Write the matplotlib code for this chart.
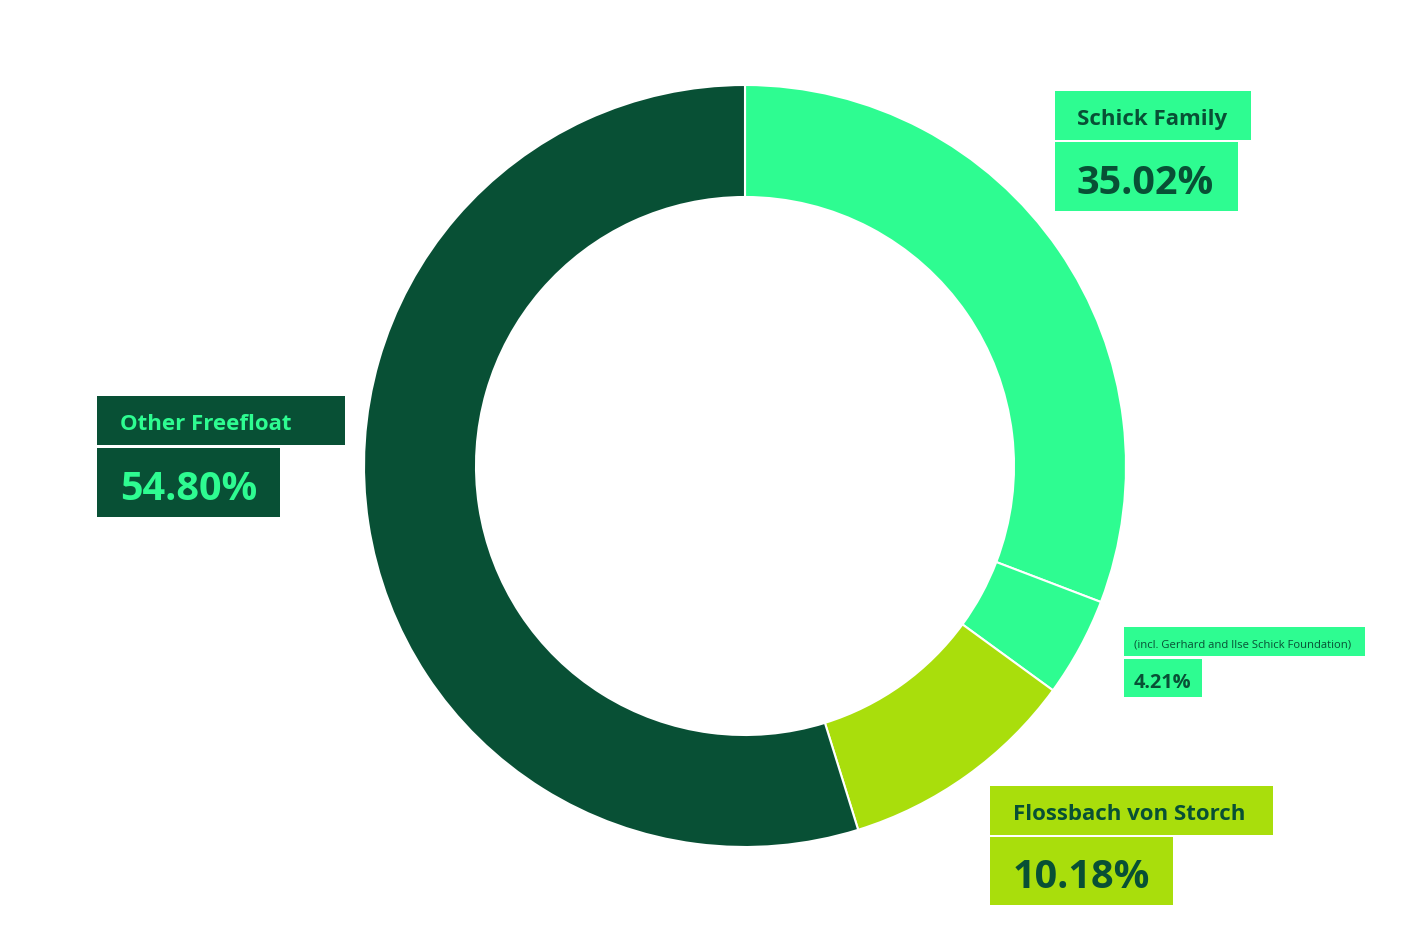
import matplotlib.pyplot as plt
from matplotlib.patches import Rectangle

# shareholder structure
segments = ['Schick Family', '(incl. Gerhard and Ilse Schick Foundation)',
            'Flossbach von Storch', 'Other Freefloat']
shares = [30.81, 4.21, 10.18, 54.80]
shown_pct = ['35.02%', '4.21%', '10.18%', '54.80%']
colors = ['#2efc91', '#2efc91', '#a9de0c', '#085035']

plt.rcParams['font.family'] = ['Open Sans', 'DejaVu Sans']

W, H = 1414, 943
fig = plt.figure(figsize=(W / 100, H / 100), dpi=100)

cx, cy, r = 745, 466, 381
ax = fig.add_axes([(cx - r) / W, (H - cy - r) / H, 2 * r / W, 2 * r / H])
ax.pie(shares, colors=colors, startangle=90, counterclock=False, radius=1,
       wedgeprops=dict(width=112 / 381, edgecolor='white', linewidth=1.5))
ax.set_xlim(-1, 1)
ax.set_ylim(-1, 1)
ax.axis('off')

# overlay in pixel coordinates for the label boxes
ov = fig.add_axes([0, 0, 1, 1])
ov.set_xlim(0, W)
ov.set_ylim(H, 0)
ov.axis('off')


def box(x0, y0, x1, y1, fc, text, tc, size, pad, weight='bold'):
    ov.add_patch(Rectangle((x0, y0), x1 - x0, y1 - y0, fc=fc, ec='none'))
    ov.text(x0 + pad, (y0 + y1) / 2 + 2, text, color=tc, fontsize=size,
            fontweight=weight, va='center_baseline', ha='left')


# Schick Family
box(1055, 91, 1251, 140, colors[0], segments[0], '#085035', 16, 22)
box(1055, 142, 1238, 211, colors[0], shown_pct[0], '#085035', 28.5, 22)
# foundation
box(1124, 627, 1365, 656, colors[1], segments[1], '#085035', 8.1, 10, 'normal')
box(1124, 659, 1202, 697, colors[1], shown_pct[1], '#085035', 14.3, 10)
# Flossbach von Storch
box(990, 786, 1273, 835, colors[2], segments[2], '#085035', 16, 23)
box(990, 837, 1173, 905, colors[2], shown_pct[2], '#085035', 28.5, 23)
# Other Freefloat
box(97, 396, 345, 445, colors[3], segments[3], '#2efc91', 16, 23)
box(97, 448, 280, 517, colors[3], shown_pct[3], '#2efc91', 28.5, 23)

fig.savefig('out.png', dpi=100)
